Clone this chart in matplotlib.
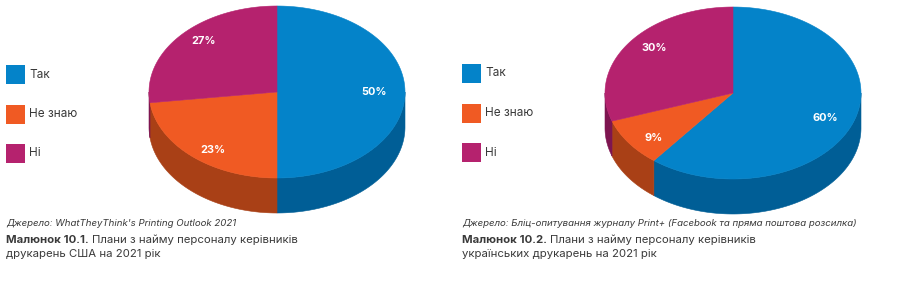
import numpy as np
import matplotlib.pyplot as plt
from matplotlib.patches import Polygon, Rectangle

plt.rcParams['font.family'] = ['Inter', 'DejaVu Sans']

categories = ['Так', 'Не знаю', 'Ні']
usa_values = [50, 23, 27]
ukr_values = [60, 9, 30]

top_colors = ['#0483C9', '#F05A23', '#B5226E']
side_colors = ['#005E96', '#A94016', '#7E1550']
text_color = '#3a3a3a'

usa_source = "Джерело: WhatTheyThink's Printing Outlook 2021"
usa_fig = 'Малюнок 10.1.'
usa_caption = ['Плани з найму персоналу керівників', 'друкарень США на 2021 рік']
ukr_source = 'Джерело: Бліц-опитування журналу Print+ (Facebook та пряма поштова розсилка)'
ukr_fig = 'Малюнок 10.2.'
ukr_caption = ['Плани з найму персоналу керівників', 'українських друкарень на 2021 рік']

fig = plt.figure(figsize=(9, 3.02), dpi=100)
ax = fig.add_axes([0, 0, 1, 1])
ax.set_xlim(0, 900)
ax.set_ylim(302, 0)
ax.axis('off')


def ellipse_pts(cx, cy, rx, ry, a0, a1, n=120):
    # angles in degrees, clockwise from 12 o'clock, y axis pointing down
    t = np.radians(np.linspace(a0, a1, n))
    return cx + rx * np.sin(t), cy - ry * np.cos(t)


def pie3d(values, cx, cy, rx, ry, depth):
    vals = np.array(values, dtype=float)
    edges = np.concatenate([[0], np.cumsum(vals / vals.sum() * 360)])
    # side walls (front half only: 90..270 degrees)
    for i in range(len(vals)):
        a0, a1 = max(edges[i], 90), min(edges[i + 1], 270)
        if a1 <= a0:
            continue
        x, y = ellipse_pts(cx, cy, rx, ry, a0, a1)
        pts = np.column_stack([np.concatenate([x, x[::-1]]),
                               np.concatenate([y, y[::-1] + depth])])
        ax.add_patch(Polygon(pts, closed=True, fc=side_colors[i],
                             ec=side_colors[i], lw=0.4))
    # top face
    for i in range(len(vals)):
        x, y = ellipse_pts(cx, cy, rx, ry, edges[i], edges[i + 1])
        pts = np.column_stack([np.concatenate([[cx], x]), np.concatenate([[cy], y])])
        ax.add_patch(Polygon(pts, closed=True, fc=top_colors[i],
                             ec=top_colors[i], lw=0.4))
    # labels
    for i, v in enumerate(values):
        mid = np.radians((edges[i] + edges[i + 1]) / 2)
        lx = cx + 0.76 * rx * np.sin(mid)
        ly = cy - 0.9 * ry * np.cos(mid)
        ax.text(lx, ly, f'{v}%', color='white', fontsize=7.9, fontweight='bold',
                ha='center', va='center')


def legend(x0, y0):
    for i, name in enumerate(categories):
        y = y0 + i * 39.5
        ax.add_patch(Rectangle((x0, y), 19, 19, fc=top_colors[i], ec='none'))
        ax.text(x0 + 23, y + 9.5, name, fontsize=8.5, color=text_color,
                ha='left', va='center')


def caption(x0, source, fig_no, lines):
    ax.text(x0, 224, source, fontsize=6.95, style='italic', color=text_color,
            ha='left', va='center')
    t = ax.text(x0, 240, fig_no, fontsize=8.2, fontweight='bold', color=text_color,
                ha='left', va='center')
    fig.canvas.draw()
    bb = t.get_window_extent().transformed(ax.transData.inverted())
    ax.text(bb.x1 + 3, 240, lines[0], fontsize=8.2, color=text_color,
            ha='left', va='center')
    ax.text(x0, 254, lines[1], fontsize=8.2, color=text_color,
            ha='left', va='center')


pie3d(usa_values, 277, 92, 128, 86, 35)
pie3d(ukr_values, 733, 93, 128, 86, 35)
legend(6, 65)
legend(462, 64)
caption(6, usa_source, usa_fig, usa_caption)
caption(462, ukr_source, ukr_fig, ukr_caption)

fig.savefig('out.png', dpi=100, facecolor='white')
